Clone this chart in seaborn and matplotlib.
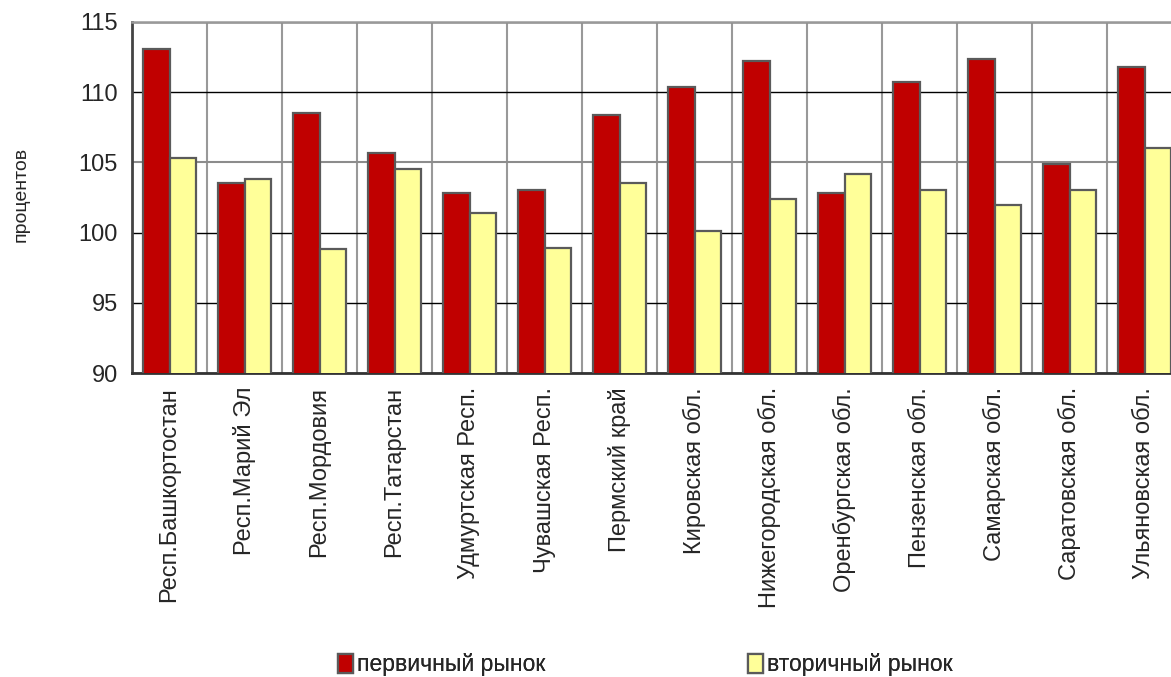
import pandas as pd
import numpy as np
import matplotlib.pyplot as plt
import seaborn as sns
from matplotlib.ticker import MultipleLocator, FixedLocator

sns.set_style('white')
plt.rcParams['font.family'] = ['Liberation Sans', 'DejaVu Sans']

regions = ['Респ.Башкортостан', 'Респ.Марий Эл', 'Респ.Мордовия', 'Респ.Татарстан',
           'Удмуртская Респ.', 'Чувашская Респ.', 'Пермский край', 'Кировская обл.',
           'Нижегородская обл.', 'Оренбургская обл.', 'Пензенская обл.', 'Самарская обл.',
           'Саратовская обл.', 'Ульяновская обл.']
primary = [113.1, 103.5, 108.5, 105.7, 102.8, 103.0, 108.4, 110.4,
           112.2, 102.8, 110.7, 112.4, 104.9, 111.8]
secondary = [105.3, 103.8, 98.8, 104.5, 101.4, 98.9, 103.5, 100.1,
             102.4, 104.2, 103.0, 102.0, 103.0, 106.0]
series_names = ['первичный рынок', 'вторичный рынок']
colors = ['#C00000', '#FFFF99']

df = pd.DataFrame({'region': regions, series_names[0]: primary, series_names[1]: secondary})
df_long = df.melt(id_vars='region', var_name='market', value_name='value')

fig = plt.figure(figsize=(11.71, 6.77), dpi=100)
ax = fig.add_axes([132 / 1171, 1 - 373 / 677, 1050 / 1171, 351 / 677])

sns.barplot(data=df_long, x='region', y='value', hue='market', hue_order=series_names,
            palette=colors, width=0.71, edgecolor='#5a5a5a', linewidth=1.6,
            saturation=1, ax=ax, zorder=3)

ax.set_ylim(90, 115)
ax.set_xlim(-0.5, len(regions) - 0.5)
ax.yaxis.set_major_locator(MultipleLocator(5))
ax.xaxis.set_minor_locator(FixedLocator(np.arange(-0.5, len(regions), 1)))

ax.grid(axis='y', which='major', color='black', linewidth=1, zorder=0)
ax.grid(axis='x', which='minor', color='#999999', linewidth=1.5, zorder=0)
for v, gl in zip(ax.get_yticks(), ax.get_ygridlines()):
    if abs(v - 105) < 0.01:
        gl.set_color('#8c8c8c')
        gl.set_linewidth(1.5)
ax.set_axisbelow(True)

ax.tick_params(axis='x', which='major', length=0, pad=10, labelsize=17, rotation=90)
ax.tick_params(axis='x', which='minor', length=6, width=1.2, color='#555555', direction='out')
ax.tick_params(axis='y', length=6, width=1.2, color='#333333', direction='out',
               labelsize=17, pad=4)

ax.spines['left'].set_color('#444444')
ax.spines['left'].set_linewidth(2)
ax.spines['bottom'].set_color('#333333')
ax.spines['bottom'].set_linewidth(2)
ax.spines['top'].set_color('#999999')
ax.spines['top'].set_linewidth(1.8)
ax.spines['right'].set_visible(False)

ax.set_xlabel('')
ax.set_ylabel('')
fig.text(21 / 1171, 1 - 194 / 677, 'процентов', rotation=90, fontsize=14,
         ha='center', va='center')

handles, labels = ax.get_legend_handles_labels()
ax.get_legend().remove()
for h, lab, xpos in zip(handles, labels, [338, 748]):
    leg = fig.legend([h], [lab], loc='center left', bbox_to_anchor=(xpos / 1171, 1 - 665 / 677),
                     frameon=False, fontsize=16.5, handlelength=0.65, handleheight=0.85,
                     handletextpad=0.2, borderpad=0, borderaxespad=0)
    fig.add_artist(leg)

fig.savefig('out.png', dpi=100)
